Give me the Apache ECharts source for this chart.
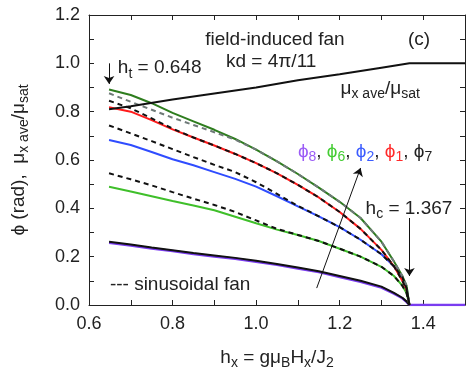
<!DOCTYPE html>
<html>
<head>
<meta charset="utf-8">
<script src="https://cdn.jsdelivr.net/npm/echarts@6/dist/echarts.min.js"></script>
<style>
html,body{margin:0;padding:0;background:#fff}
#main{width:471px;height:382px}
</style>
</head>
<body>
<div id="main"></div>
<script>
// field values h_x shared by all phi curves
var hx = [0.648,0.7,0.75,0.8,0.85,0.9,0.95,1.0,1.05,1.1,1.15,1.2,1.25,1.3,1.33,1.35,1.36,1.367];

var phiDarkGreen = [0.892,0.869,0.835,0.795,0.76,0.725,0.687,0.643,0.594,0.542,0.486,0.427,0.36,0.262,0.18,0.12,0.08,0];
var sinDarkGreen = [0.876,0.841,0.808,0.775,0.745,0.715,0.684,0.643,0.594,0.542,0.486,0.427,0.36,0.262,0.18,0.12,0.08,0];
var phi1 = [0.818,0.8,0.765,0.727,0.693,0.66,0.625,0.587,0.545,0.497,0.445,0.385,0.315,0.228,0.16,0.1,0.065,0];
var sin1 = [0.845,0.814,0.772,0.73,0.693,0.66,0.625,0.587,0.545,0.497,0.445,0.385,0.315,0.228,0.16,0.1,0.065,0];
var phi2 = [0.683,0.662,0.633,0.603,0.578,0.55,0.522,0.49,0.45,0.408,0.367,0.322,0.27,0.21,0.16,0.115,0.07,0];
var sin2 = [0.743,0.71,0.678,0.645,0.612,0.58,0.55,0.508,0.46,0.41,0.367,0.322,0.27,0.21,0.16,0.115,0.07,0];
var phi6 = [0.489,0.47,0.45,0.43,0.412,0.392,0.365,0.338,0.312,0.29,0.265,0.233,0.2,0.158,0.12,0.08,0.05,0];
var sin6 = [0.545,0.52,0.495,0.467,0.44,0.414,0.385,0.35,0.315,0.29,0.265,0.233,0.2,0.158,0.12,0.08,0.05,0];
var phi7 = [0.262,0.25,0.238,0.227,0.215,0.205,0.195,0.183,0.17,0.155,0.14,0.12,0.1,0.076,0.05,0.03,0.015,0];
var phi8 = [0.258,0.246,0.234,0.223,0.211,0.201,0.191,0.179,0.166,0.151,0.136,0.116,0.096,0.072,0.047,0.028,0.013,0];
var hxTail = [1.367,1.5];
var phi8Tail = [0,0];

// mu_x ave / mu_sat
var muX = [0.648,0.7,0.8,0.9,1.0,1.1,1.2,1.3,1.367,1.5];
var muY = [0.81,0.822,0.85,0.875,0.9,0.93,0.955,0.982,1.0,1.0];

var ht = 0.648, hc = 1.367;
var trendArrow = [[1.145,0.07],[1.25,0.567]];

var FONT = 'Liberation Sans';
var chart = echarts.init(document.getElementById('main'));

function pairs(xs, ys){
	return xs.map(function(x,i){ return [x, ys[i]]; });
}
function line(name, xs, ys, color, width, dashed){
	return {
		name: name, type: 'line', data: pairs(xs, ys),
		symbol: 'none', silent: true, animation: false,
		lineStyle: { color: color, width: width, type: dashed ? [5,4] : 'solid' }
	};
}

function evenLabel(v){
	return Math.round(v*10) % 2 === 0 ? v.toFixed(1) : '';
}

var tickStyle = { show: true, inside: true, length: 5, lineStyle: { color: '#222' } };
var lineAx = { show: true, onZero: false, lineStyle: { color: '#222', width: 1 } };
var sub = { fontSize: 14, padding: [11,0,0,0], fontFamily: FONT, color: '#222' };
var nameN = { fontSize: 19, fontFamily: FONT, color: '#222' };

var series = [
	line('phi8', hx, phi8, '#7a3cf0', 2.5),
	line('phi8tail', hxTail, phi8Tail, '#7a3cf0', 2.5),
	line('phi7', hx, phi7, '#111', 2),
	line('phi6', hx, phi6, '#3fbf2a', 2),
	line('phi2', hx, phi2, '#2f4cff', 2),
	line('phi1', hx, phi1, '#ff1a1a', 2),
	line('phiG', hx, phiDarkGreen, '#2e7d1e', 2),
	line('sinG', hx, sinDarkGreen, '#6f7a78', 2, true),
	line('sin1', hx, sin1, '#111', 2, true),
	line('sin2', hx, sin2, '#111', 2, true),
	line('sin6', hx, sin6, '#111', 2, true),
	line('mu', muX, muY, '#111', 2)
];
series[series.length-1].markLine = {
	silent: true, animation: false, symbol: ['none','arrow'], symbolSize: 8,
	label: { show: false },
	lineStyle: { color: '#111', width: 1, type: 'solid' },
	data: [
		[{coord: [ht, 1.0]}, {coord: [ht, 0.915]}],
		[{coord: [hc, 0.36]}, {coord: [hc, 0.12]}],
		[{coord: trendArrow[0]}, {coord: trendArrow[1]}]
	]
};

chart.setOption({
	animation: false,
	grid: { left: 89, right: 6, top: 15, bottom: 77 },
	xAxis: [{
		type: 'value', min: 0.6, max: 1.5, interval: 0.1,
		axisLine: lineAx, axisTick: tickStyle, splitLine: { show: false },
		axisLabel: { formatter: evenLabel, fontSize: 18, fontFamily: FONT, color: '#222', margin: 10 },
		name: '{n|h}{s|x}{n| = gμ}{s|B}{n|H}{s|x}{n|/J}{s|2}',
		nameLocation: 'middle', nameGap: 40,
		nameTextStyle: { rich: { n: nameN, s: sub } }
	}, {
		type: 'value', min: 0.6, max: 1.5, interval: 0.1, position: 'top',
		axisLine: lineAx, axisTick: tickStyle, splitLine: { show: false }, axisLabel: { show: false }
	}],
	yAxis: [{
		type: 'value', min: 0, max: 1.2, interval: 0.1,
		axisLine: lineAx, axisTick: tickStyle, splitLine: { show: false },
		axisLabel: { formatter: evenLabel, fontSize: 18, fontFamily: FONT, color: '#222', margin: 9 },
		name: '{n|ϕ (rad),  μ}{s|x ave}{n|/μ}{s|sat}',
		nameLocation: 'middle', nameGap: 58, nameRotate: 90,
		nameTextStyle: { rich: { n: nameN, s: sub } }
	}, {
		type: 'value', min: 0, max: 1.2, interval: 0.1, position: 'right',
		axisLine: lineAx, axisTick: tickStyle, splitLine: { show: false }, axisLabel: { show: false }
	}],
	series: series
});

// annotations placed at data positions
function txt(pos, text, rich, align){
	var p = chart.convertToPixel({ xAxisIndex: 0, yAxisIndex: 0 }, pos);
	return {
		type: 'text', x: p[0], y: p[1], silent: true, z: 100,
		style: {
			text: text, rich: rich, align: align || 'left', verticalAlign: 'middle',
			font: '19px ' + FONT, fill: '#222'
		}
	};
}
function col(c){ return { fontSize: 19, fontFamily: FONT, fill: c }; }
function colSub(c){ return { fontSize: 14, fontFamily: FONT, fill: c, padding: [11,0,0,0] }; }
var nrm = col('#222'), sb = colSub('#222');

chart.setOption({
	graphic: [
		txt([1.045, 1.096], 'field-induced fan', {}, 'center'),
		txt([1.036, 1.005], 'kd = 4π/11', {}, 'center'),
		txt([1.39, 1.096], '(c)', {}, 'center'),
		txt([0.669, 0.98], '{n|h}{s|t}{n| = 0.648}', { n: nrm, s: sb }),
		txt([1.202, 0.895], '{n|μ}{s|x ave}{n|/μ}{s|sat}', { n: nrm, s: sb }),
		txt([1.10, 0.633],
			'{p|ϕ}{ps|8}{k|, }{g|ϕ}{gs|6}{k|, }{b|ϕ}{bs|2}{k|, }{r|ϕ}{rs|1}{k|, }{k|ϕ}{ks|7}',
			{ p: col('#9b5cf6'), ps: colSub('#9b5cf6'), g: col('#44cc33'), gs: colSub('#44cc33'),
			  b: col('#3b5cff'), bs: colSub('#3b5cff'), r: col('#ff2a2a'), rs: colSub('#ff2a2a'),
			  k: col('#222'), ks: colSub('#222') }),
		txt([1.262, 0.40], '{n|h}{s|c}{n| = 1.367}', { n: nrm, s: sb }),
		txt([0.65, 0.083], '--- sinusoidal fan', {})
	]
});
</script>
</body>
</html>
